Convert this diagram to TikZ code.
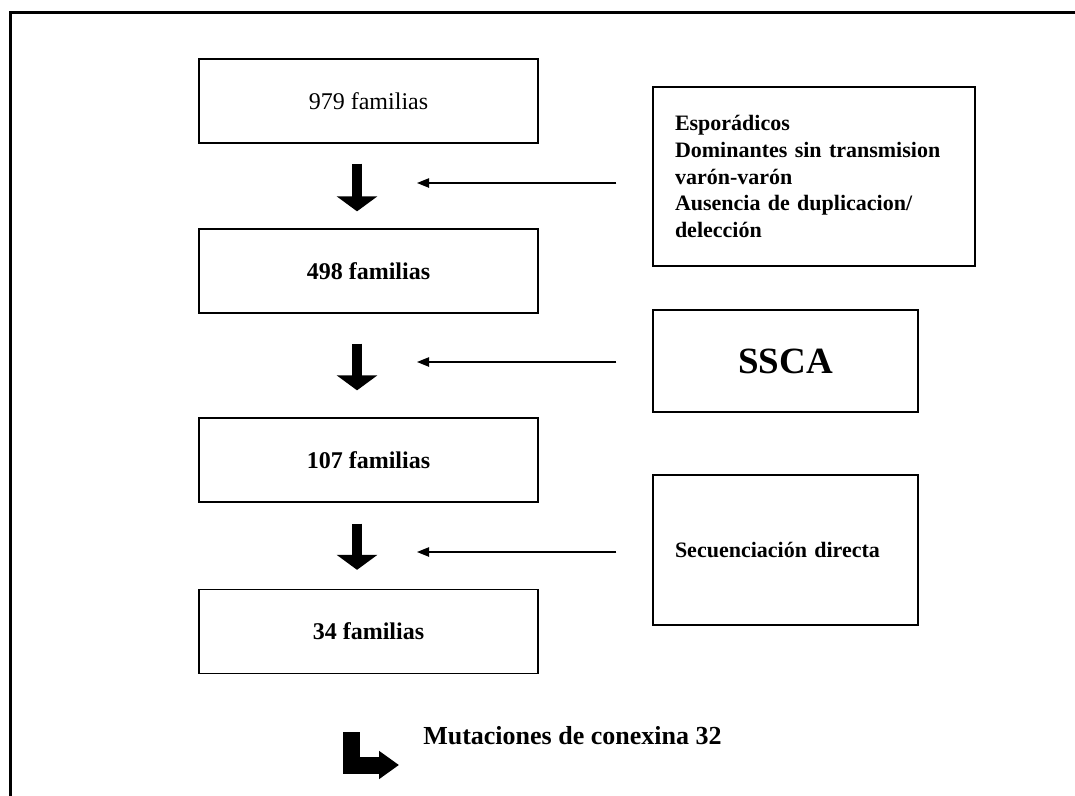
\documentclass[tikz,border=0pt]{standalone}
\usepackage{fontspec}
\setmainfont{Liberation Serif}
\usetikzlibrary{arrows.meta}
\tikzset{
  caja/.style={draw=black, line width=1pt, inner sep=0pt, align=center,
               minimum width=254.25pt, minimum height=63pt,
               font=\fontsize{18}{22}\selectfont\bfseries},
  cajafiltro/.style={draw=black, line width=1pt, inner sep=0pt, align=left,
               font=\fontsize{16.5}{20}\selectfont\bfseries},
  flechagruesa/.style={-{Triangle[length=11.25pt,width=30pt]}, line width=7.5pt},
  flechafina/.style={-{Triangle[length=9pt,width=7pt]}, line width=1pt, shorten <=27pt},
  flechacodo/.style={-{Triangle[length=15pt,width=20.25pt]}, line width=12.75pt},
}

\begin{document}
\begin{tikzpicture}[x=0.75pt, y=-0.75pt]

  \useasboundingbox (0,0) rectangle (1075,796);

  % --- Marco ------------------------------------------------------------------
  \draw[line width=2.25pt] (10.5,796) -- (10.5,12) -- (1075,12);

  % --- Familias (columna izquierda) -------------------------------------------
  \node[caja, font=\fontsize{18}{22}\selectfont] (fam979) at (368.5,101) {979 familias};
  \node[caja] (fam498) at (368.5,271) {498 familias};
  \node[caja] (fam107) at (368.5,460) {107 familias};
  \node[caja] (fam34)  at (368.5,631.5) {34 familias};

  % --- Criterios de filtrado (columna derecha) --------------------------------
  \node[cajafiltro, minimum width=241.5pt, minimum height=134.25pt, text width=208.5pt]
    (esporadicos) at (814,176.5)
    {Esporádicos\\Dominantes sin transmision\\varón-varón\\Ausencia de duplicacion/\\delección};
  \node[cajafiltro, align=center, minimum width=198.75pt, minimum height=76.5pt,
        font=\fontsize{27.75}{30}\selectfont\bfseries]
    (ssca) at (785.5,361) {SSCA};
  \node[cajafiltro, minimum width=198.75pt, minimum height=112.5pt, text width=165.75pt]
    (secuenciacion) at (785.5,550) {Secuenciación directa};

  % --- Resultado final --------------------------------------------------------
  \node[anchor=base west, inner sep=0pt, font=\fontsize{19.5}{22}\selectfont\bfseries]
    (mutaciones) at (423,744) {Mutaciones de conexina 32};

  % --- Puntas de las flechas finas --------------------------------------------
  \coordinate (p1) at (417,183);
  \coordinate (p2) at (417,362);
  \coordinate (p3) at (417,552);

  % --- Flechas gruesas entre familias -----------------------------------------
  \draw[flechagruesa, shorten <=15pt, shorten >=12.75pt]
    ([xshift=-8.6pt]fam979.south) -- ([xshift=-8.6pt]fam498.north);
  \draw[flechagruesa, shorten <=22.5pt, shorten >=20.25pt]
    ([xshift=-8.6pt]fam498.south) -- ([xshift=-8.6pt]fam107.north);
  \draw[flechagruesa, shorten <=15.75pt, shorten >=14.25pt]
    ([xshift=-8.6pt]fam107.south) -- ([xshift=-8.6pt]fam34.north);

  % --- Flechas finas desde los criterios --------------------------------------
  \draw[flechafina] (esporadicos.west |- p1) -- (p1);
  \draw[flechafina] (ssca.west |- p2) -- (p2);
  \draw[flechafina] (secuenciacion.west |- p3) -- (p3);

  % --- Flecha en codo hacia las mutaciones ------------------------------------
  \draw[flechacodo, shorten <=43.5pt, shorten >=18pt]
    ([xshift=-12.75pt]fam34.south) |- (mutaciones.west |- 0,765);

\end{tikzpicture}
\end{document}
